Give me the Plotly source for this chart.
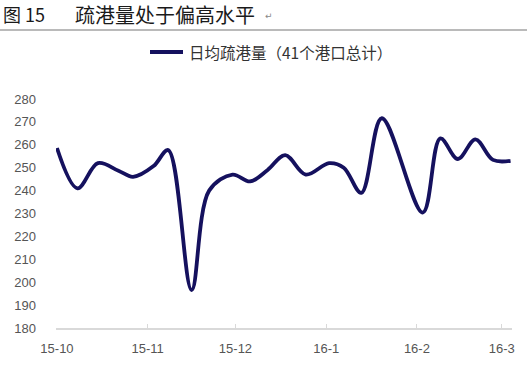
import plotly.graph_objects as go

# Data (daily average port evacuation volume, 41 ports)
dates = ["2015-10-01", "2015-10-08", "2015-10-15", "2015-10-22", "2015-10-27",
         "2015-11-03", "2015-11-08", "2015-11-16", "2015-11-22", "2015-11-30",
         "2015-12-06", "2015-12-12", "2015-12-18", "2015-12-25", "2016-01-02",
         "2016-01-07", "2016-01-13", "2016-01-20", "2016-02-03", "2016-02-09",
         "2016-02-15", "2016-02-21", "2016-02-27", "2016-03-04"]
values = [258.6, 241.0, 252.0, 248.7, 246.0,
          250.7, 257.7, 196.6, 240.0, 247.0,
          244.0, 249.0, 255.5, 247.0, 252.0,
          250.0, 239.0, 271.6, 230.4, 262.8,
          253.8, 262.4, 253.4, 253.0]
tick_vals = ["2015-10-01", "2015-11-01", "2015-12-01", "2016-01-01", "2016-02-01", "2016-03-01"]
tick_text = ["15-10", "15-11", "15-12", "16-1", "16-2", "16-3"]
y_ticks = [180, 190, 200, 210, 220, 230, 240, 250, 260, 270, 280]
series_name = "日均疏港量（41个港口总计）"
title_label = "图 15"
title_text = "疏港量处于偏高水平"

L, R, T, B = 56, 18, 99, 55
W, H = 530, 383
PW, PH = W - L - R, H - T - B


def px(x):
    return (x - L) / PW


def py(y):
    return 1 + (T - y) / PH


LINE_COLOR = "#15115e"

fig = go.Figure()
fig.add_trace(go.Scatter(
    x=dates, y=values, mode="lines", name=series_name,
    line=dict(color=LINE_COLOR, width=3.8, shape="spline", smoothing=1.0),
    showlegend=False,
))

fig.update_layout(
    width=W, height=H,
    margin=dict(l=L, r=R, t=T, b=B, autoexpand=False),
    paper_bgcolor="white", plot_bgcolor="white",
    showlegend=False,
    xaxis=dict(type="date", range=["2015-09-30T16:00", "2016-03-04T12:00"],
               tickvals=tick_vals, ticktext=tick_text, automargin=False,
               showgrid=False, showline=True, linecolor="#d9d9d9", linewidth=1.5,
               ticks="inside", ticklen=4, tickcolor="#d9d9d9", ticklabelstandoff=8,
               tickfont=dict(family="Liberation Sans, Arial", size=13, color="#555555"),
               zeroline=False),
    yaxis=dict(range=[180, 280], tickvals=y_ticks, showgrid=False, zeroline=False,
               showline=False, ticks="", ticklabelstandoff=19, automargin=False,
               tickfont=dict(family="Liberation Sans, Arial", size=13, color="#555555")),
    font=dict(family="Noto Sans CJK SC"),
)

# title
fig.add_annotation(text=title_label, xref="paper", yref="paper",
                   x=px(1), xanchor="left", y=py(14), yanchor="middle", showarrow=False,
                   font=dict(family="Noto Sans CJK SC", size=18, color="#1a1a1a"))
fig.add_annotation(text=title_text, xref="paper", yref="paper",
                   x=px(73), xanchor="left", y=py(14), yanchor="middle", showarrow=False,
                   font=dict(family="Noto Sans CJK SC", size=20, color="#1a1a1a"))
fig.add_annotation(text="↵", xref="paper", yref="paper",
                   x=px(263), xanchor="left", y=py(16), yanchor="middle", showarrow=False,
                   font=dict(family="DejaVu Sans", size=9, color="#888888"))
fig.add_shape(type="line", xref="paper", yref="paper", layer="above",
              x0=px(0), x1=px(527), y0=py(30), y1=py(30),
              line=dict(color="#777777", width=1.2))

# legend (drawn manually)
fig.add_shape(type="line", xref="paper", yref="paper",
              x0=px(150), x1=px(183), y0=py(52), y1=py(52),
              line=dict(color=LINE_COLOR, width=3.8))
fig.add_annotation(text=series_name, xref="paper", yref="paper",
                   x=px(187), xanchor="left", y=py(52), yanchor="middle", showarrow=False,
                   font=dict(family="Noto Sans CJK SC", size=15.5, color="#333333"))

fig.write_html("out.html", config={"displayModeBar": False},
               post_script="document.body.style.margin='0';document.body.style.padding='0';")
